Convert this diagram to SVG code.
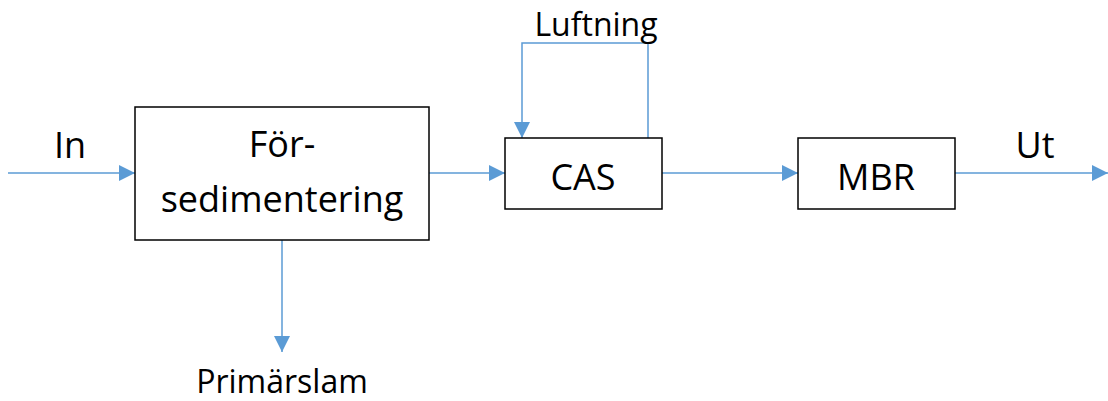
<svg xmlns="http://www.w3.org/2000/svg" width="1108" height="401" viewBox="0 0 1108 401">
<style>
.box{fill:#fff;stroke:#000;stroke-width:1.5}
.conn{fill:none;stroke:#5B9BD5;stroke-width:1.5}
.t{font-family:"Open Sans","Liberation Sans",sans-serif;font-size:36px;fill:#000;text-anchor:middle}
.s{font-family:"Open Sans","Liberation Sans",sans-serif;font-size:32px;fill:#000;text-anchor:middle}
</style>
<defs>
<marker id="ah" markerWidth="16" markerHeight="16" viewBox="0 0 16 16" refX="16" refY="8" orient="auto" markerUnits="userSpaceOnUse">
<path d="M0,0 L16,8 L0,16 Z" fill="#5B9BD5"/>
</marker>
</defs>
<rect width="1108" height="401" fill="#fff"/>
<g id="connectors">
<line class="conn" x1="8" y1="173" x2="135" y2="173" marker-end="url(#ah)"/>
<line class="conn" x1="429" y1="173" x2="505" y2="173" marker-end="url(#ah)"/>
<polyline class="conn" points="648,138 648,43 522,43 522,138" marker-end="url(#ah)"/>
<line class="conn" x1="662" y1="173" x2="798" y2="173" marker-end="url(#ah)"/>
<line class="conn" x1="955" y1="173" x2="1108" y2="173" marker-end="url(#ah)"/>
<line class="conn" x1="282" y1="240" x2="282" y2="352" marker-end="url(#ah)"/>
</g>
<g id="forsedimentering">
<rect class="box" x="135" y="107" width="294" height="133"/>
<text class="t" x="282" y="157">För-</text>
<text class="t" x="282" y="212">sedimentering</text>
</g>
<g id="cas">
<rect class="box" x="505" y="138" width="157" height="71"/>
<text class="t" x="583" y="190">CAS</text>
</g>
<g id="mbr">
<rect class="box" x="798" y="138" width="157" height="71"/>
<text class="t" x="876" y="190">MBR</text>
</g>
<g id="labels">
<text class="t" x="70" y="158">In</text>
<text class="t" x="1035" y="158">Ut</text>
<text class="s" x="596" y="36">Luftning</text>
<text class="s" x="282" y="393">Primärslam</text>
</g>
</svg>
